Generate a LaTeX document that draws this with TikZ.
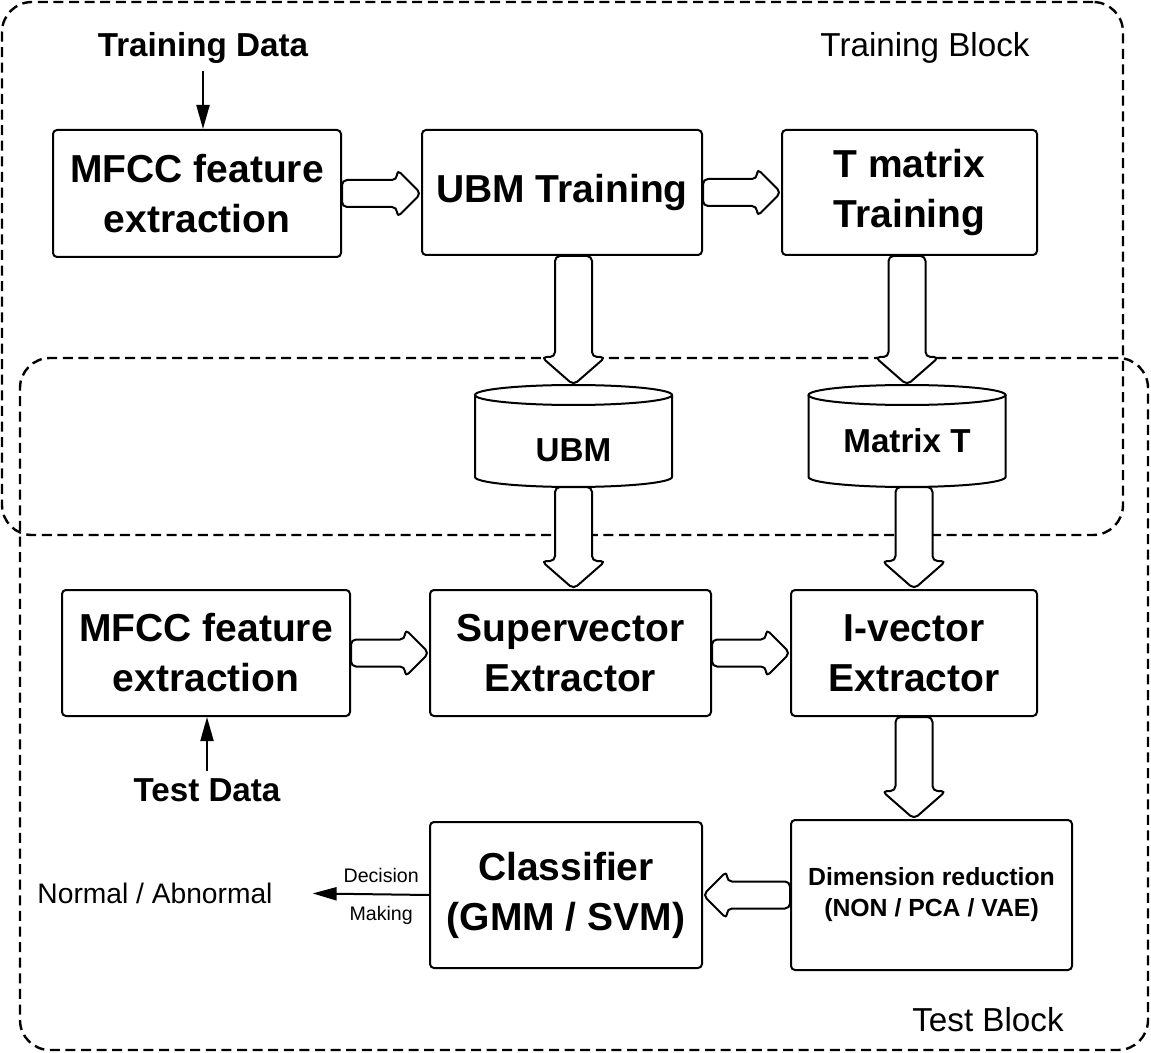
\documentclass[tikz,border=0pt]{standalone}
\usepackage{fontspec}
\setmainfont{Liberation Sans}
\usetikzlibrary{arrows.meta,calc}
\tikzset{
  box/.style={draw, line width=1pt, rounded corners=2pt, align=center, font=\fontsize{19.5}{25}\selectfont\bfseries, inner sep=0pt},
  dbbox/.style={inner sep=0pt, outer sep=0pt, minimum width=98.5pt, minimum height=51pt, font=\fontsize{16.6}{20}\selectfont\bfseries, text depth=0pt},
  dbline/.style={line width=1pt},
  fat/.style={draw, line width=1pt, rounded corners=2.5pt, fill=white, line join=round},
  arr/.style={-{Triangle[length=12pt,width=6.5pt]}, line width=1pt},
  lbl/.style={font=\fontsize{9.8}{12}\selectfont},
  group/.style={draw, line width=1.2pt, dash pattern=on 5pt off 2.8pt, rounded corners=15pt},
  glbl/.style={font=\fontsize{16.6}{20}\selectfont},
  dlbl/.style={font=\fontsize{16.6}{20}\selectfont\bfseries}}
% block arrow: from, to, half shaft, half head, head length
\newcommand{\fatarrow}[5]{%
  \coordinate (fa-s) at #1;
  \coordinate (fa-e) at #2;
  \coordinate (fa-b) at ($(fa-e)!#5!(fa-s)$);
  \draw[fat] ($(fa-s)!#3!90:(fa-e)$) -- ($(fa-b)!#3!90:(fa-e)$) -- ($(fa-b)!#4!90:(fa-e)$) -- (fa-e)
    -- ($(fa-b)!#4!-90:(fa-e)$) -- ($(fa-b)!#3!-90:(fa-e)$) -- ($(fa-s)!#3!-90:(fa-e)$) -- cycle;}

\begin{document}
\begin{tikzpicture}[x=0.5pt, y=-0.5pt]
  \useasboundingbox (0,0) rectangle (1151,1053);
  % the two blocks
  \node[group, minimum width=560.5pt, minimum height=266.5pt] (trainblk) at (562.5,268.5) {};
  \node[group, minimum width=564pt, minimum height=346pt] (testblk) at (584,704) {};
  \node[glbl] (trainlbl) at (925,48) {Training Block};
  \node[glbl] (testlbl) at (988,1020) {Test Block};

  \node[dlbl] (tdata) at (203,48) {Training Data};
  \node[box, minimum width=144pt, minimum height=63.5pt] (mfcc1) at (197,193.5) {MFCC feature\\extraction};
  \node[box, minimum width=140pt, minimum height=62.5pt] (ubmtr) at (562,192.5) {UBM Training};
  \node[box, minimum width=127.5pt, minimum height=62.5pt] (tmat) at (909.5,192.5) {T matrix\\Training};
  \node[dbbox, text height=26pt] (ubmdb) at (573.5,436) {UBM};
  \node[dbbox, text height=16pt] (matdb) at (907,436) {Matrix T};
  \node[box, minimum width=144pt, minimum height=63pt] (mfcc2) at (206,653) {MFCC feature\\extraction};
  \node[box, minimum width=140.5pt, minimum height=63pt] (super) at (570.5,653) {Supervector\\Extractor};
  \node[box, minimum width=123pt, minimum height=63pt] (ivec) at (914,653) {I-vector\\Extractor};
  \node[dlbl] (testdata) at (207,790) {Test Data};
  \node[box, minimum width=140.5pt, minimum height=75pt, font=\fontsize{12.4}{15.5}\selectfont\bfseries] (dimred) at (931.5,895) {Dimension reduction\\(NON / PCA / VAE)};
  \node[box, minimum width=136pt, minimum height=73pt] (classif) at (566,895) {Classifier\\(GMM / SVM)};
  \node[font=\fontsize{14.1}{17}\selectfont] (result) at (155,893) {Normal / Abnormal};

  % databases
  \draw[dbline] ([yshift=-5pt]ubmdb.north west) -- ([yshift=5pt]ubmdb.south west)
    arc[start angle=180, end angle=0, x radius=98.5, y radius=10] -- ([yshift=-5pt]ubmdb.north east);
  \draw[dbline] ([yshift=-5pt]ubmdb.north) ellipse[x radius=98.5, y radius=10];
  \draw[dbline] ([yshift=-5pt]matdb.north west) -- ([yshift=5pt]matdb.south west)
    arc[start angle=180, end angle=0, x radius=98.5, y radius=10] -- ([yshift=-5pt]matdb.north east);
  \draw[dbline] ([yshift=-5pt]matdb.north) ellipse[x radius=98.5, y radius=10];

  \draw[arr] (tdata.south) -- (tdata.south |- mfcc1.north);
  \draw[arr] (testdata.north) -- (testdata.north |- mfcc2.south);
  \draw[arr, shorten >=16.5pt] (classif.west) -- node[lbl, above=2pt, pos=0.32] {Decision} node[lbl, below=2pt, pos=0.32] {Making} (result.east);

  \fatarrow{(mfcc1.east)}{(ubmtr.west |- mfcc1.east)}{6.75pt}{12pt}{12pt}
  \fatarrow{(ubmtr.east)}{(tmat.west |- ubmtr.east)}{6.75pt}{12pt}{12pt}
  \fatarrow{(ubmdb.north |- ubmtr.south)}{(ubmdb.north)}{9.25pt}{16pt}{14pt}
  \fatarrow{(matdb.north |- tmat.south)}{(matdb.north)}{9.25pt}{16pt}{14pt}
  \fatarrow{(ubmdb.south)}{(ubmdb.south |- super.north)}{9.25pt}{16pt}{14pt}
  \fatarrow{(ivec.north |- matdb.south)}{(ivec.north)}{9.25pt}{16pt}{14pt}
  \fatarrow{(mfcc2.east)}{(super.west |- mfcc2.east)}{6.75pt}{12pt}{12pt}
  \fatarrow{(super.east)}{(ivec.west |- super.east)}{6.75pt}{12pt}{12pt}
  \fatarrow{(ivec.south)}{(ivec.south |- dimred.north)}{9.25pt}{16pt}{14pt}
  \fatarrow{(dimred.west)}{(classif.east |- dimred.west)}{6.75pt}{12pt}{12pt}
\end{tikzpicture}
\end{document}
